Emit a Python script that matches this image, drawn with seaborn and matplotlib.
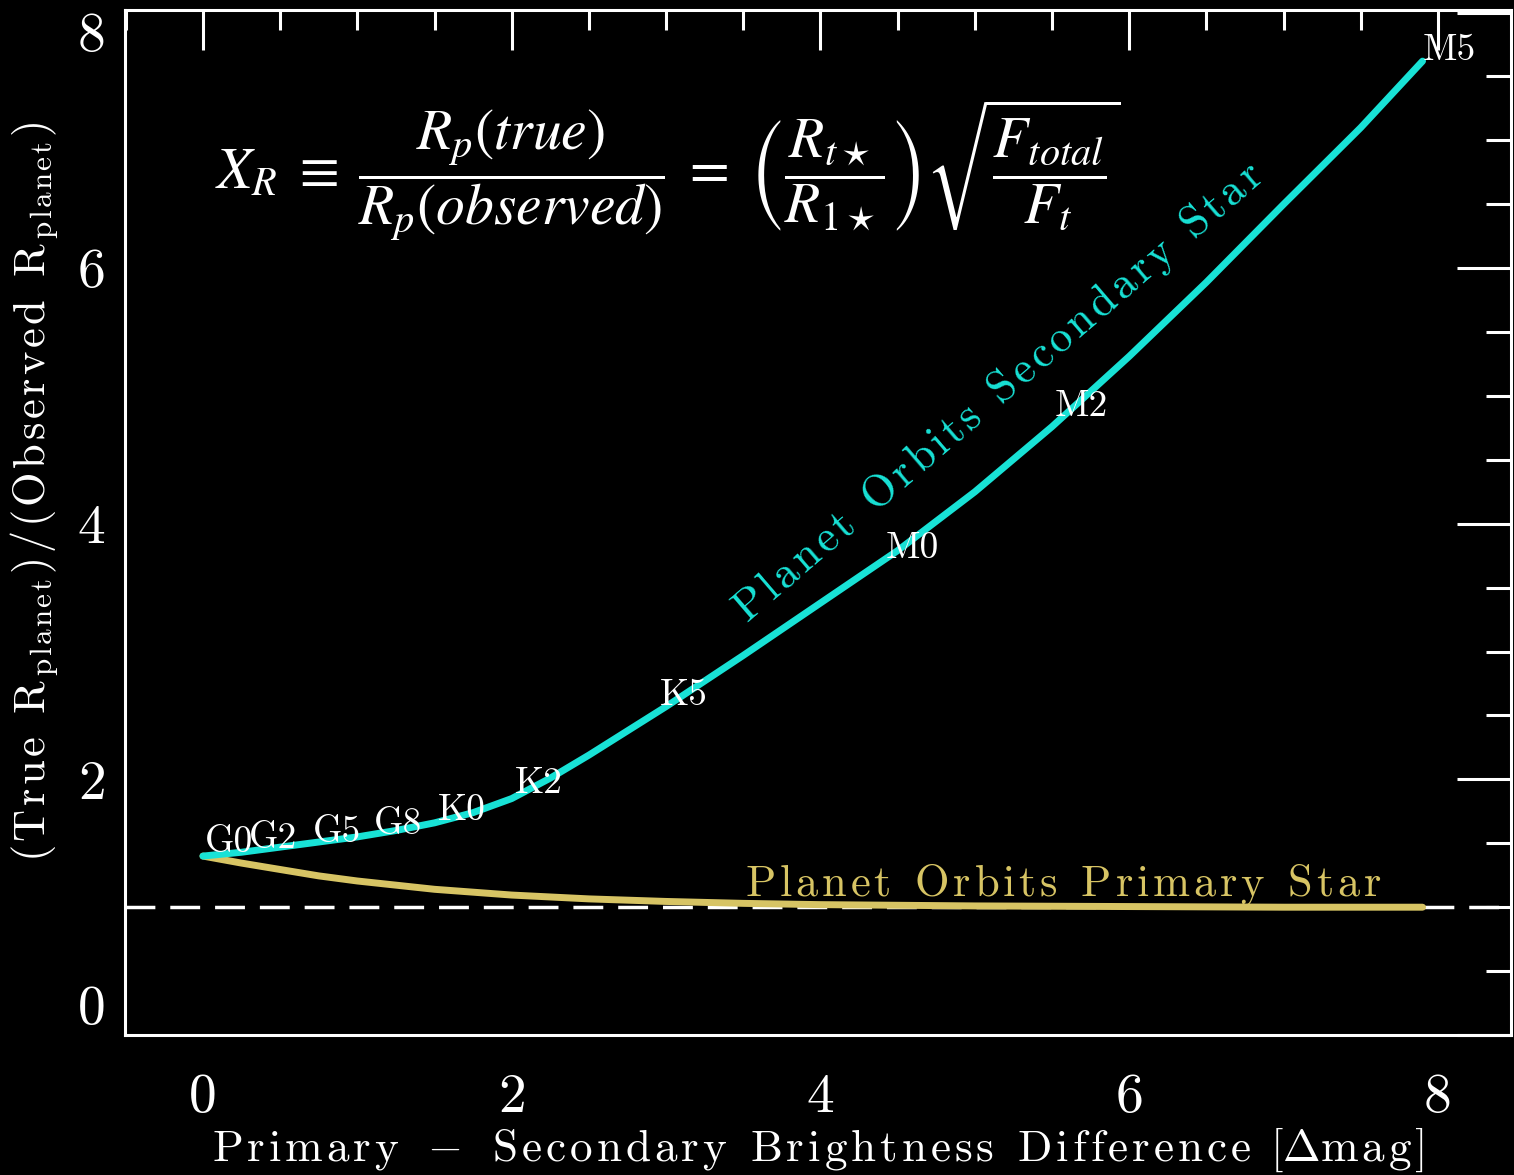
import matplotlib
matplotlib.use("Agg")
import matplotlib.pyplot as plt
import seaborn as sns
import pandas as pd
from matplotlib.ticker import MultipleLocator

# Radius correction X_R when the planet orbits the fainter (secondary) star
dmag_secondary = [0.0, 0.25, 0.5, 0.75, 1.0, 1.25, 1.5, 1.75, 2.0, 2.25, 2.5,
                  2.75, 3.0, 3.5, 4.0, 4.5, 5.0, 5.5, 6.0, 6.5, 7.0, 7.5, 7.9]
xr_secondary = [1.40, 1.43, 1.47, 1.51, 1.55, 1.60, 1.66, 1.74, 1.85, 2.01,
                2.19, 2.38, 2.57, 2.97, 3.38, 3.79, 4.25, 4.76, 5.31, 5.89,
                6.50, 7.10, 7.62]

# Radius correction X_R when the planet orbits the brighter (primary) star
dmag_primary = [0.0, 0.25, 0.5, 0.75, 1.0, 1.5, 2.0, 2.5, 3.0, 3.5, 4.0,
                5.0, 6.0, 7.0, 7.9]
xr_primary = [1.40, 1.345, 1.295, 1.245, 1.205, 1.14, 1.095, 1.065, 1.045,
              1.03, 1.02, 1.01, 1.005, 1.0, 1.0]

# Spectral type of the secondary along the curve
spectral_types = ["G0", "G2", "G5", "G8", "K0", "K2", "K5", "M0", "M2", "M5"]
type_label_x = [0.01, 0.30, 0.71, 1.11, 1.52, 2.02, 2.96, 4.42, 5.52, 7.90]
type_label_y = [1.43, 1.46, 1.51, 1.57, 1.68, 1.89, 2.58, 3.73, 4.84, 7.63]

x_ticks = [0, 2, 4, 6, 8]
y_ticks = [0, 2, 4, 6, 8]

CYAN = "#18E2D6"
GOLD = "#D7C464"


def tracked(s, gap=0.1, word=0.5):
    """Roman mathtext body with extra letter spacing."""
    parts = []
    for ch in s:
        if ch == " ":
            parts.append(r"\hspace{%.2f}" % word)
        else:
            parts.append(r"\mathrm{%s}\hspace{%.2f}" % (ch, gap))
    return "".join(parts)


sns.set_style("dark", rc={
    "figure.facecolor": "black",
    "axes.facecolor": "black",
    "axes.edgecolor": "white",
    "axes.linewidth": 2.2,
    "axes.grid": False,
    "xtick.color": "white",
    "ytick.color": "white",
    "text.color": "white",
    "axes.labelcolor": "white",
})
plt.rcParams["font.family"] = ["cmr10", "DejaVu Serif"]
plt.rcParams["mathtext.fontset"] = "cm"
plt.rcParams["axes.unicode_minus"] = False

fig = plt.figure(figsize=(15.14, 11.75), dpi=100)
ax = fig.add_axes([125 / 1514, 140 / 1175, 1386 / 1514, 1025 / 1175])

sec = pd.DataFrame({"dmag": dmag_secondary, "xr": xr_secondary})
pri = pd.DataFrame({"dmag": dmag_primary, "xr": xr_primary})

ax.axhline(1.0, color="white", lw=2.5, dashes=(8.6, 4.3), zorder=1)
sns.lineplot(data=pri, x="dmag", y="xr", ax=ax, color=GOLD, lw=5,
             sort=False, estimator=None, zorder=2)
sns.lineplot(data=sec, x="dmag", y="xr", ax=ax, color=CYAN, lw=5,
             sort=False, estimator=None, zorder=3)

for name, tx, ty in zip(spectral_types, type_label_x, type_label_y):
    ax.text(tx, ty, name, color="white", fontsize=27, family="cmr10",
            ha="left", va="baseline", zorder=4)

ax.text(3.52, 3.22, "$" + tracked("Planet Orbits Secondary Star") + "$",
        color=CYAN, fontsize=32, rotation=40.6, rotation_mode="anchor",
        ha="left", va="baseline")
ax.text(3.51, 1.095, "$" + tracked("Planet Orbits Primary Star") + "$",
        color=GOLD, fontsize=32, ha="left", va="baseline")

formula = (r"$X_R \;\equiv\; \dfrac{R_p(true)}{R_p(observed)} \;=\; "
           r"\left(\dfrac{R_{t\star}}{R_{1\star}}\right)"
           r"\sqrt{\dfrac{F_{total}}{F_t}}$")
fig.text(215 / 1514, 1 - 170 / 1175, formula, fontsize=41.5, color="white",
         math_fontfamily="stix", ha="left", va="center")

ax.set_xlim(-0.505, 8.473)
ax.set_ylim(0, 8.02)
ax.set_xticks(x_ticks)
ax.set_xticklabels([str(v) for v in x_ticks], family="cmr10", fontsize=40)
ax.set_yticks(y_ticks)
ax.set_yticklabels([str(v) for v in y_ticks], family="cmr10", fontsize=40)
ylabels = ax.get_yticklabels()
ylabels[0].set_va("bottom")
ylabels[-1].set_va("top")
ax.xaxis.set_minor_locator(MultipleLocator(0.5))
ax.yaxis.set_minor_locator(MultipleLocator(0.5))
ax.tick_params(axis="both", which="both", direction="in", top=True,
               right=True, width=2.2, colors="white")
ax.tick_params(axis="x", which="major", length=29, pad=28)
ax.tick_params(axis="x", which="minor", length=14.5)
ax.tick_params(axis="y", which="major", length=39, pad=14)
ax.tick_params(axis="y", which="minor", length=18)

for sp in ax.spines.values():
    sp.set_color("white")
    sp.set_linewidth(2.2)

xlabel = ("$" + tracked("Primary") + r"\hspace{0.45}-\hspace{0.55}"
          + tracked("Secondary Brightness Difference")
          + r"\hspace{0.4}[\Delta" + tracked("mag") + "]$")
ax.set_xlabel(xlabel, fontsize=32.5, color="white")
ax.xaxis.set_label_coords(0.5, -0.088)

ylabel = ("$" + tracked("(True R", gap=0.09) + r"_{" + tracked("planet", gap=0.09)
          + r"}" + tracked(")/(Observed R", gap=0.09) + r"_{"
          + tracked("planet", gap=0.09) + r"})$")
ax.set_ylabel(ylabel, fontsize=32, color="white")
ax.yaxis.label.set_va("center")
ax.yaxis.set_label_coords(-0.065, 0.53)

fig.savefig("out.png", dpi=100, facecolor="black")
